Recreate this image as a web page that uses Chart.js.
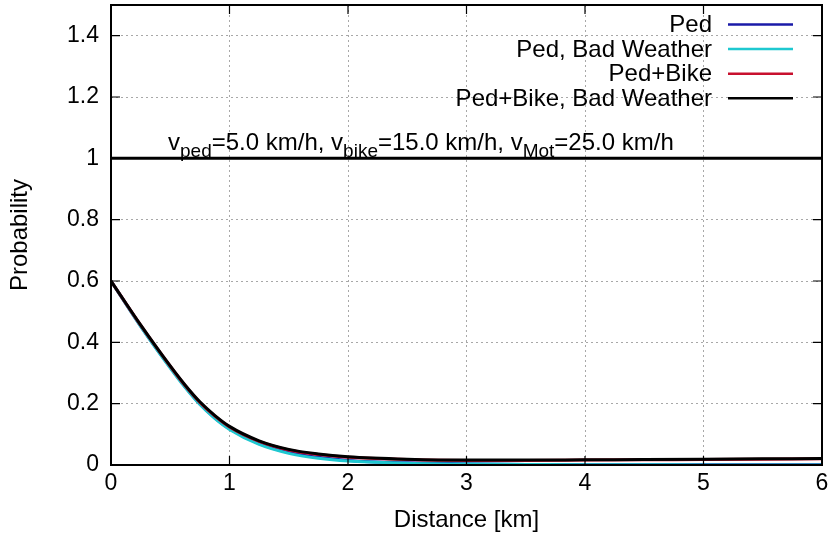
<!DOCTYPE html>
<html>
<head>
<meta charset="utf-8">
<script src="https://cdn.jsdelivr.net/npm/chart.js@4.4.1/dist/chart.umd.min.js"></script>
<style>
  html, body { margin: 0; padding: 0; background: #fff; }
  #wrap { width: 836px; height: 539px; }
</style>
</head>
<body>
<div id="wrap"><canvas id="probChart" width="836" height="539"></canvas></div>
<script>
// distances in km
const distance = [0, 0.25, 0.5, 0.625, 0.75, 0.875, 1, 1.25, 1.5, 1.75, 2, 2.5, 3, 3.5, 4, 4.5, 5, 5.5, 6];

const ped        = [0.6, 0.453, 0.318, 0.255, 0.199, 0.154, 0.118, 0.070, 0.041, 0.025, 0.015, 0.007, 0.004, 0.002, 0.001, 0.001, 0.001, 0.001, 0.001];
const pedBad     = [0.6, 0.452, 0.316, 0.253, 0.197, 0.152, 0.116, 0.067, 0.038, 0.022, 0.013, 0.006, 0.003, 0.002, 0.001, 0.001, 0.000, 0.000, 0.000];
const pedBike    = [0.6, 0.456, 0.322, 0.259, 0.204, 0.160, 0.124, 0.077, 0.049, 0.034, 0.025, 0.018, 0.015, 0.015, 0.016, 0.017, 0.018, 0.019, 0.020];
const pedBikeBad = [0.6, 0.457, 0.323, 0.261, 0.206, 0.162, 0.126, 0.079, 0.051, 0.036, 0.027, 0.019, 0.016, 0.016, 0.017, 0.018, 0.019, 0.020, 0.021];
const unity      = [1, 1, 1, 1, 1, 1, 1, 1, 1, 1, 1, 1, 1, 1, 1, 1, 1, 1, 1];

const xTicks = [0, 1, 2, 3, 4, 5, 6];
const yTicks = [0, 0.2, 0.4, 0.6, 0.8, 1, 1.2, 1.4];

const FONT = "'Liberation Sans', Arial, sans-serif";

function pts(arr) {
  return distance.map((d, i) => ({ x: d, y: arr[i] }));
}

function series(label, arr, color, legend, order) {
  return {
    label: label,
    data: pts(arr),
    borderColor: color,
    backgroundColor: color,
    borderWidth: 3,
    pointRadius: 0,
    cubicInterpolationMode: "monotone",
    fill: false,
    order: order,
    inLegend: legend
  };
}

// frame, inward ticks, key and the speed label, gnuplot style
const gnuplotDecor = {
  id: "gnuplotDecor",
  afterDatasetsDraw(chart) {
    const ctx = chart.ctx;
    const a = chart.chartArea;
    const xs = chart.scales.x, ys = chart.scales.y;
    ctx.save();
    ctx.strokeStyle = "#000";
    ctx.lineWidth = 1.2;
    ctx.beginPath();
    xTicks.forEach(t => {
      const px = xs.getPixelForValue(t);
      ctx.moveTo(px, a.bottom); ctx.lineTo(px, a.bottom - 9);
      ctx.moveTo(px, a.top); ctx.lineTo(px, a.top + 9);
    });
    yTicks.forEach(t => {
      const py = ys.getPixelForValue(t);
      ctx.moveTo(a.left, py); ctx.lineTo(a.left + 9, py);
      ctx.moveTo(a.right, py); ctx.lineTo(a.right - 9, py);
    });
    ctx.stroke();
    ctx.lineWidth = 2;
    ctx.strokeRect(a.left, a.top, a.right - a.left, a.bottom - a.top);

    // key
    const keyRight = 712, lineX0 = 728, lineX1 = 793;
    let row = 0;
    ctx.font = "24px " + FONT;
    ctx.textAlign = "right";
    ctx.textBaseline = "middle";
    chart.data.datasets.forEach(ds => {
      if (!ds.inLegend) return;
      const y = 24.5 + row * 24.6;
      ctx.fillStyle = "#000";
      ctx.fillText(ds.label, keyRight, y + 1);
      ctx.strokeStyle = ds.borderColor;
      ctx.lineWidth = 2.5;
      ctx.beginPath();
      ctx.moveTo(lineX0, y); ctx.lineTo(lineX1, y);
      ctx.stroke();
      row++;
    });

    // speed label with subscripts
    const parts = [
      ["v", false], ["ped", true], ["=5.0 km/h, v", false], ["bike", true],
      ["=15.0 km/h, v", false], ["Mot", true], ["=25.0 km/h", false]
    ];
    ctx.textAlign = "left";
    ctx.textBaseline = "alphabetic";
    ctx.fillStyle = "#000";
    let x = 168;
    const base = 150;
    parts.forEach(([txt, sub]) => {
      ctx.font = (sub ? "19px " : "24px ") + FONT;
      ctx.fillText(txt, x, sub ? base + 7 : base);
      x += ctx.measureText(txt).width;
    });
    ctx.restore();
  }
};

new Chart(document.getElementById("probChart").getContext("2d"), {
  type: "line",
  data: {
    datasets: [
      series("", unity, "#000000", false, 0),
      series("Ped", ped, "#1a1aa8", true, 4),
      series("Ped, Bad Weather", pedBad, "#1ec8d0", true, 3),
      series("Ped+Bike", pedBike, "#c8102e", true, 2),
      series("Ped+Bike, Bad Weather", pedBikeBad, "#000000", true, 1)
    ]
  },
  options: {
    responsive: false,
    animation: false,
    layout: { padding: { left: 2, right: 14, top: 5, bottom: 0 } },
    plugins: { legend: { display: false }, tooltip: { enabled: false } },
    scales: {
      x: {
        type: "linear",
        min: 0, max: 6,
        afterBuildTicks: s => { s.ticks = xTicks.map(v => ({ value: v })); },
        afterFit: s => { s.height = 74; s.paddingLeft = 0; s.paddingRight = 0; },
        ticks: { color: "#000", font: { family: FONT, size: 23 }, padding: 5, callback: v => String(v) },
        grid: { color: "#a8a8a8", lineWidth: 1, drawTicks: false },
        border: { display: false, dash: [2, 3] },
        title: { display: true, text: "Distance [km]", color: "#000", font: { family: FONT, size: 24 }, padding: { top: 7 } }
      },
      y: {
        type: "linear",
        min: 0, max: 1.5,
        afterBuildTicks: s => { s.ticks = yTicks.map(v => ({ value: v })); },
        afterFit: s => { s.width = 109; s.paddingTop = 0; s.paddingBottom = 0; },
        ticks: { color: "#000", font: { family: FONT, size: 23 }, padding: 12, callback: v => String(+v.toFixed(1)) },
        grid: { color: "#a8a8a8", lineWidth: 1, drawTicks: false },
        border: { display: false, dash: [2, 3] },
        title: { display: true, text: "Probability", color: "#000", font: { family: FONT, size: 24 }, padding: { bottom: 10 } }
      }
    }
  },
  plugins: [gnuplotDecor]
});
</script>
</body>
</html>
